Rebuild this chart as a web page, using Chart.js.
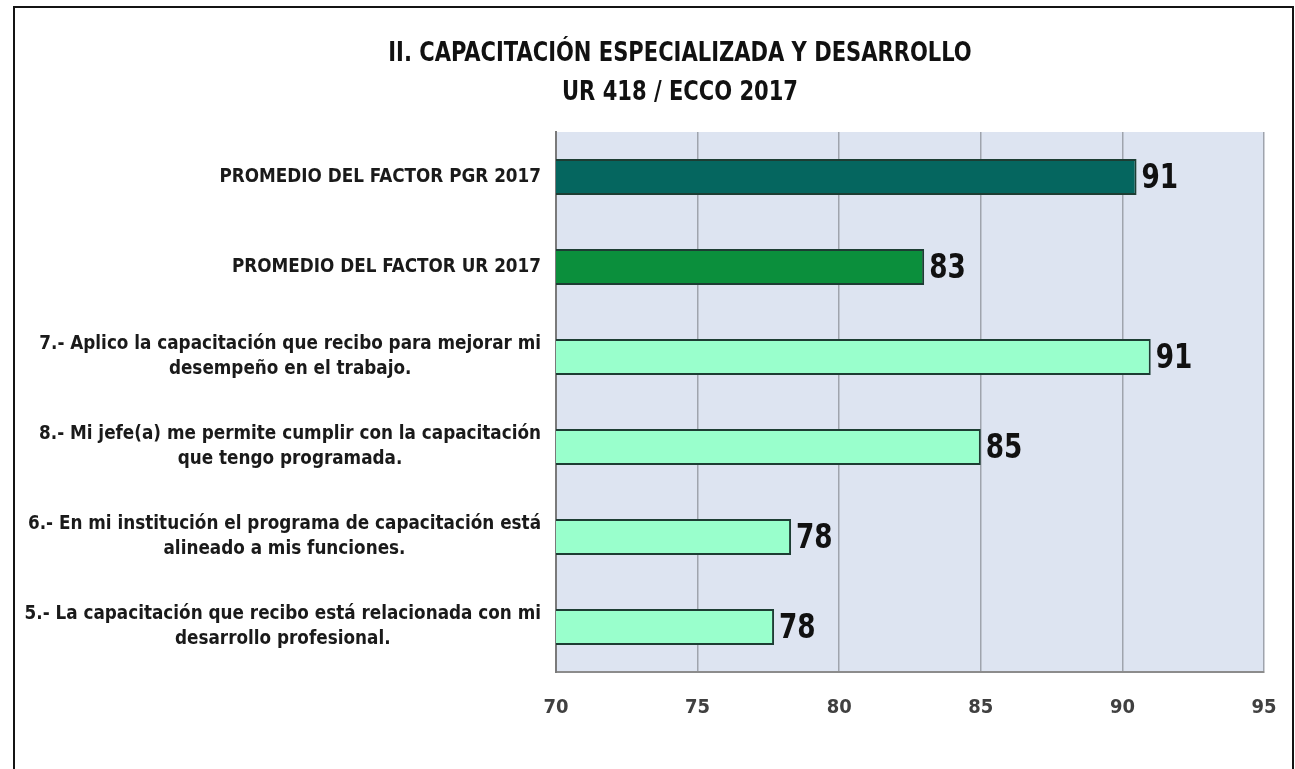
<html>
  <head>
    <script src="https://cdn.jsdelivr.net/npm/chart.js"></script>
    <style>
      body { margin: 0; background: #ffffff; }
      #frame {
        position: absolute; left: 13px; top: 6px; width: 1277px; height: 820px;
        border: 2px solid #141414; box-sizing: content-box;
      }
      #wrap { position: absolute; left: 0; top: 0; width: 1295px; height: 769px; }
    </style>
  </head>

  <body>
    <div id="frame"></div>
    <div id="wrap">
      <canvas id="myChart" width="1295" height="769"></canvas>
    </div>
    <script>
      const titleLines = ["II. CAPACITACIÓN ESPECIALIZADA Y DESARROLLO", "UR 418 / ECCO 2017"]

      const categories = [
        ["PROMEDIO DEL FACTOR PGR 2017"],
        ["PROMEDIO DEL FACTOR UR 2017"],
        ["7.- Aplico la capacitación que recibo para mejorar mi", "desempeño en el trabajo."],
        ["8.- Mi jefe(a) me permite cumplir con la capacitación", "que tengo programada."],
        ["6.- En mi institución el programa de capacitación está", "alineado a mis funciones."],
        ["5.- La capacitación que recibo está relacionada con mi", "desarrollo profesional."]
      ]
      const scores = [90.5, 83.0, 91.0, 85.0, 78.3, 77.7]
      const xMin = 70
      const xMax = 95
      const xStep = 5

      const barColors = ["#05665f", "#0b8f3c", "#99ffcc", "#99ffcc", "#99ffcc", "#99ffcc"]
      const FONT = "'Liberation Sans Narrow', 'DejaVu Sans Condensed', 'Liberation Sans', sans-serif"

      // text squeezed horizontally by sx, anchored at x with the given alignment
      function narrowText(ctx, text, x, y, sx, align) {
        ctx.save()
        ctx.translate(x, y)
        ctx.scale(sx, 1)
        ctx.textAlign = align
        ctx.fillText(text, 0, 0)
        ctx.restore()
      }

      // plot background and the two-line heading
      const backdrop = {
        id: "backdrop",
        beforeDraw(chart) {
          const { ctx, chartArea: a } = chart
          ctx.save()
          ctx.fillStyle = "#dde4f1"
          ctx.fillRect(a.left, a.top, a.right - a.left, a.bottom - a.top)
          ctx.fillStyle = "#111111"
          ctx.textBaseline = "middle"
          ctx.font = "bold 26px " + FONT
          narrowText(ctx, titleLines[0], 680, 54, 0.9, "center")
          narrowText(ctx, titleLines[1], 680, 93, 0.9, "center")
          ctx.restore()
        }
      }

      // category names: block right-aligned to the axis, lines centred in the block
      const catLabels = {
        id: "catLabels",
        afterDraw(chart) {
          const { ctx } = chart
          const y = chart.scales.y
          const sx = 0.985
          ctx.save()
          ctx.font = "bold 19px " + FONT
          ctx.fillStyle = "#1a1a1a"
          ctx.textBaseline = "middle"
          const lh = 25
          categories.forEach(function (lines, i) {
            const w = sx * Math.max(...lines.map(function (l) { return ctx.measureText(l).width }))
            const cx = 541 - w / 2
            const cy = y.getPixelForValue(i)
            lines.forEach(function (l, j) {
              narrowText(ctx, l, cx, cy + (j - (lines.length - 1) / 2) * lh, sx, "center")
            })
          })
          ctx.restore()
        }
      }

      // value at the end of each bar
      const valueLabels = {
        id: "valueLabels",
        afterDatasetsDraw(chart) {
          const { ctx } = chart
          const meta = chart.getDatasetMeta(0)
          ctx.save()
          ctx.font = "bold 34px " + FONT
          ctx.fillStyle = "#111111"
          ctx.textBaseline = "middle"
          meta.data.forEach(function (bar, i) {
            narrowText(ctx, String(Math.round(scores[i])), bar.x + 5, bar.y + 2, 0.86, "left")
          })
          ctx.restore()
        }
      }

      const config = {
        type: "bar",
        data: {
          labels: categories.map(function (c) { return c.join(" ") }),
          datasets: [
            {
              data: scores,
              backgroundColor: barColors,
              borderColor: "#1d3d33",
              borderWidth: 2,
              borderSkipped: "start",
              barPercentage: 0.8,
              categoryPercentage: 0.5
            }
          ]
        },
        options: {
          indexAxis: "y",
          responsive: false,
          animation: false,
          layout: { padding: { top: 132, right: 31, left: 0, bottom: 0 } },
          plugins: {
            legend: { display: false },
            tooltip: { enabled: false }
          },
          scales: {
            x: {
              min: xMin,
              max: xMax,
              ticks: {
                stepSize: xStep,
                padding: 24,
                color: "#404040",
                font: { family: FONT, size: 20, weight: "bold" }
              },
              grid: { color: "#9fa4ad", lineWidth: 1.5, drawTicks: false },
              border: { color: "#8c8c8c", width: 2 },
              afterFit: function (scale) {
                scale.height = 97
                scale.paddingLeft = 0
                scale.paddingRight = 0
              }
            },
            y: {
              ticks: { display: false },
              grid: { display: false, drawTicks: false },
              border: { color: "#7a7a7a", width: 2 },
              afterFit: function (scale) { scale.width = 556 }
            }
          }
        },
        plugins: [backdrop, catLabels, valueLabels]
      }
      const myChart = new Chart(document.getElementById("myChart"), config)
    </script>
  </body>
</html>
